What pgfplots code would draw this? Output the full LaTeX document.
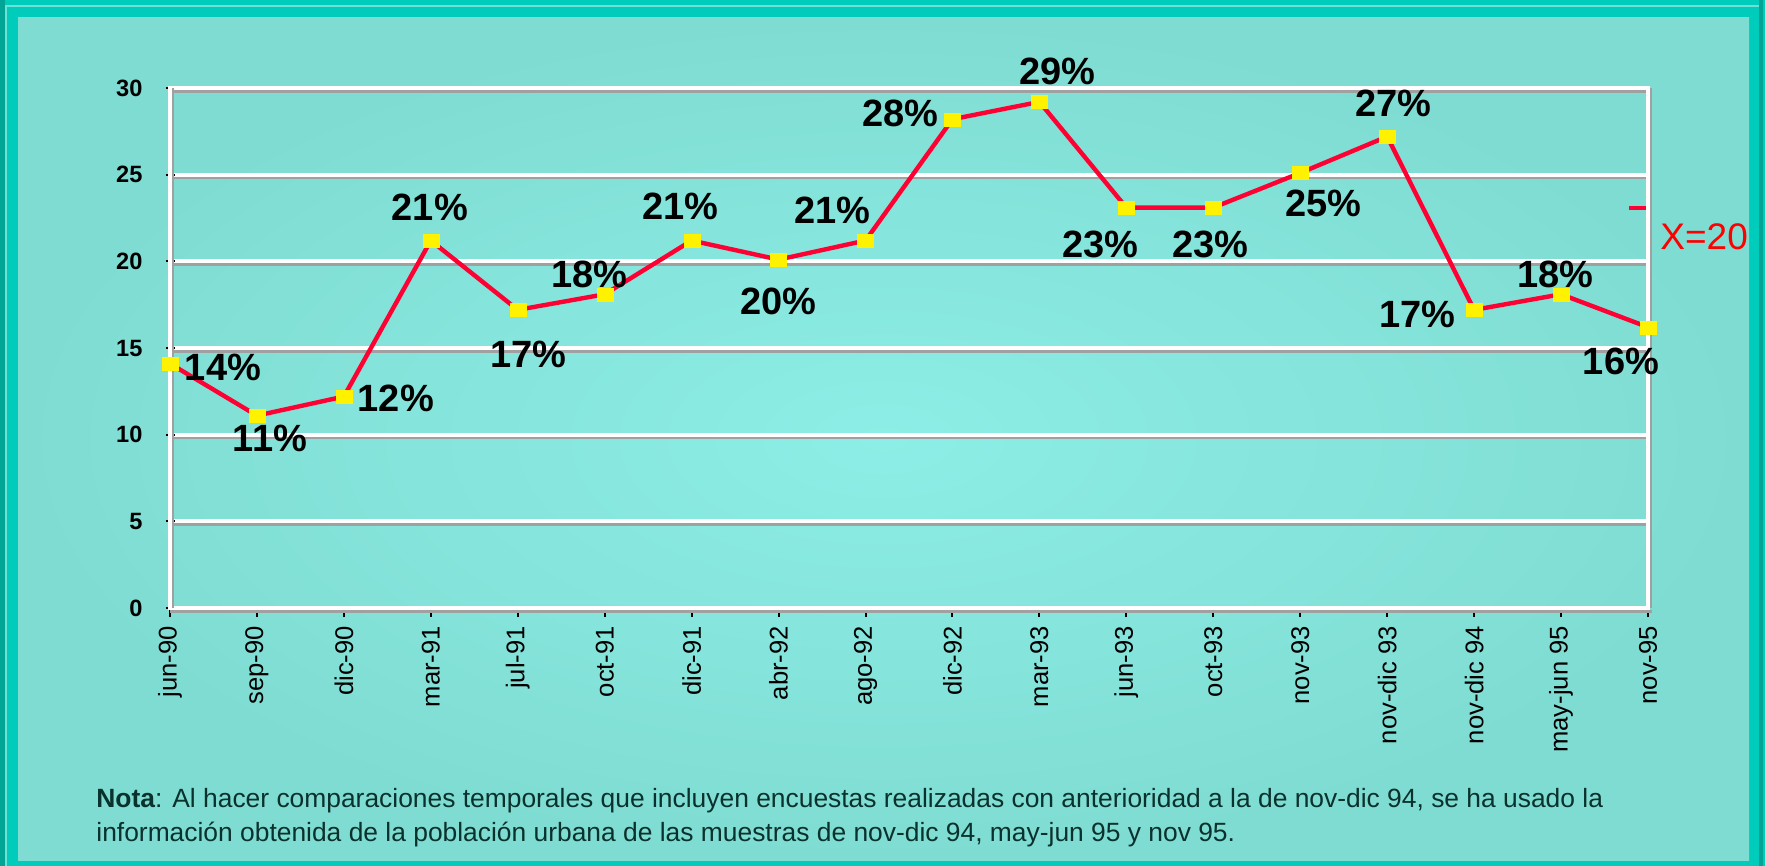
\documentclass[border=0pt]{standalone}
\usepackage{pgfplots}
\pgfplotsset{compat=1.18}
\usepackage{fontspec}
\setmainfont{Liberation Sans}
\definecolor{tealdark}{RGB}{0,165,150}
\definecolor{tealmid}{RGB}{0,204,187}
\definecolor{teallight}{RGB}{110,224,212}
\definecolor{bgedge}{RGB}{127,220,210}
\definecolor{bgcenter}{RGB}{140,238,230}
\definecolor{shadowgray}{RGB}{160,160,160}
\definecolor{linered}{RGB}{255,0,51}
\definecolor{notecol}{RGB}{10,50,45}

\pgfplotstableread{
x y lbl dx dy
0 14.1 14 26.5 -2
1 11.1 11 6.5 -11.5
2 12.2 12 26 -1
3 21.2 21 -0.5 16.5
4 17.2 17 5.5 -22.5
5 18.1 18 -7.5 10
6 21.2 21 -5.5 17
7 20.1 20 0 -21
8 21.2 21 -16.5 15
9 28.2 28 -26 3
10 29.2 29 9 15
11 23.1 23 -13 -18.5
12 23.1 23 -1.5 -18.5
13 25.1 25 11.5 -15
14 27.2 27 3 16.5
15 17.2 17 -28.5 -2.5
16 18.1 18 -3 10
17 16.2 16 -13.5 -17
}\datatable

\begin{document}
\begin{tikzpicture}[x=0.5pt,y=-0.5pt]
\useasboundingbox (0,0) rectangle (1765,866);
% frame
\fill[tealmid] (0,0) rectangle (1765,866);
\fill[tealdark] (0,0) rectangle (5,866);
\fill[tealdark] (1759,0) rectangle (1763,866);
\fill[teallight] (5,5) rectangle (7,866);
\fill[teallight] (5,5) rectangle (1759,7);
\shade[inner color=bgcenter, outer color=bgedge] (18,18) rectangle (1749,860);

\begin{axis}[
  at={(85pt,-304pt)}, anchor=south west,
  scale only axis, width=739pt, height=260pt,
  xmin=0, xmax=17, ymin=0, ymax=30,
  xtick={0,...,17},
  xticklabels={jun-90,sep-90,dic-90,mar-91,jul-91,oct-91,dic-91,abr-92,ago-92,dic-92,mar-93,jun-93,oct-93,nov-93,nov-dic 93,nov-dic 94,may-jun 95,nov-95},
  xticklabel style={rotate=90, anchor=east, font=\fontsize{12.8}{14}\selectfont, xshift=-1pt},
  ytick={0,5,...,30},
  yticklabel style={font=\fontsize{11.8}{13}\selectfont\bfseries, xshift=-8pt},
  /pgf/number format/assume math mode=true,
  axis line style={white, line width=2pt},
  ymajorgrids,
  major grid style={white, line width=2pt, preaction={draw=shadowgray, line width=1.3pt, transform canvas={yshift=-1.7pt}}},
  xtick pos=bottom, ytick pos=left,
  tick style={black, line width=1pt},
  major tick length=4.5pt,
  xtick align=outside, ytick align=center,
  clip=false,
]
\draw[shadowgray, line width=1pt] ([xshift=1.5pt]rel axis cs:0,0) -- ([xshift=1.5pt]rel axis cs:0,1);
\draw[shadowgray, line width=1.2pt] ([xshift=1.6pt]rel axis cs:1,0) -- ([xshift=1.6pt]rel axis cs:1,1);
\draw[shadowgray, line width=1.3pt] ([yshift=-1.7pt]rel axis cs:0,0) -- ([yshift=-1.7pt, xshift=2.2pt]rel axis cs:1,0);
\addplot[linered, line width=2.2pt,
  mark=square*, mark size=3.2pt,
  mark options={solid, draw=yellow, fill=yellow, line width=0.1pt, xscale=1.25},
  point meta=explicit symbolic,
  visualization depends on={\thisrow{dx}\as\dx},
  visualization depends on={\thisrow{dy}\as\dy},
  nodes near coords={\pgfplotspointmeta\%},
  every node near coord/.append style={anchor=center, xshift=\dx, yshift=\dy, text=black, font=\fontsize{19}{22}\selectfont\bfseries},
] table[x=x, y=y, meta=lbl] {\datatable};
\end{axis}

% X=20 key
\draw[linered, line width=2.2pt] (1629,208) -- (1646,208);
\node[text=red, anchor=west, inner sep=0pt, font=\fontsize{18.5}{21}\selectfont] at (1660,237) {X=20};

% note
\node[anchor=base west, inner sep=0pt, text=notecol, font=\fontsize{13.2}{17}\selectfont] at (96,807) {\textbf{Nota}: Al hacer comparaciones temporales que incluyen encuestas realizadas con anterioridad a la de nov-dic 94, se ha usado la};
\node[anchor=base west, inner sep=0pt, text=notecol, font=\fontsize{13.2}{17}\selectfont] at (96,841) {información obtenida de la población urbana de las muestras de nov-dic 94, may-jun 95 y nov 95.};
\end{tikzpicture}
\end{document}
